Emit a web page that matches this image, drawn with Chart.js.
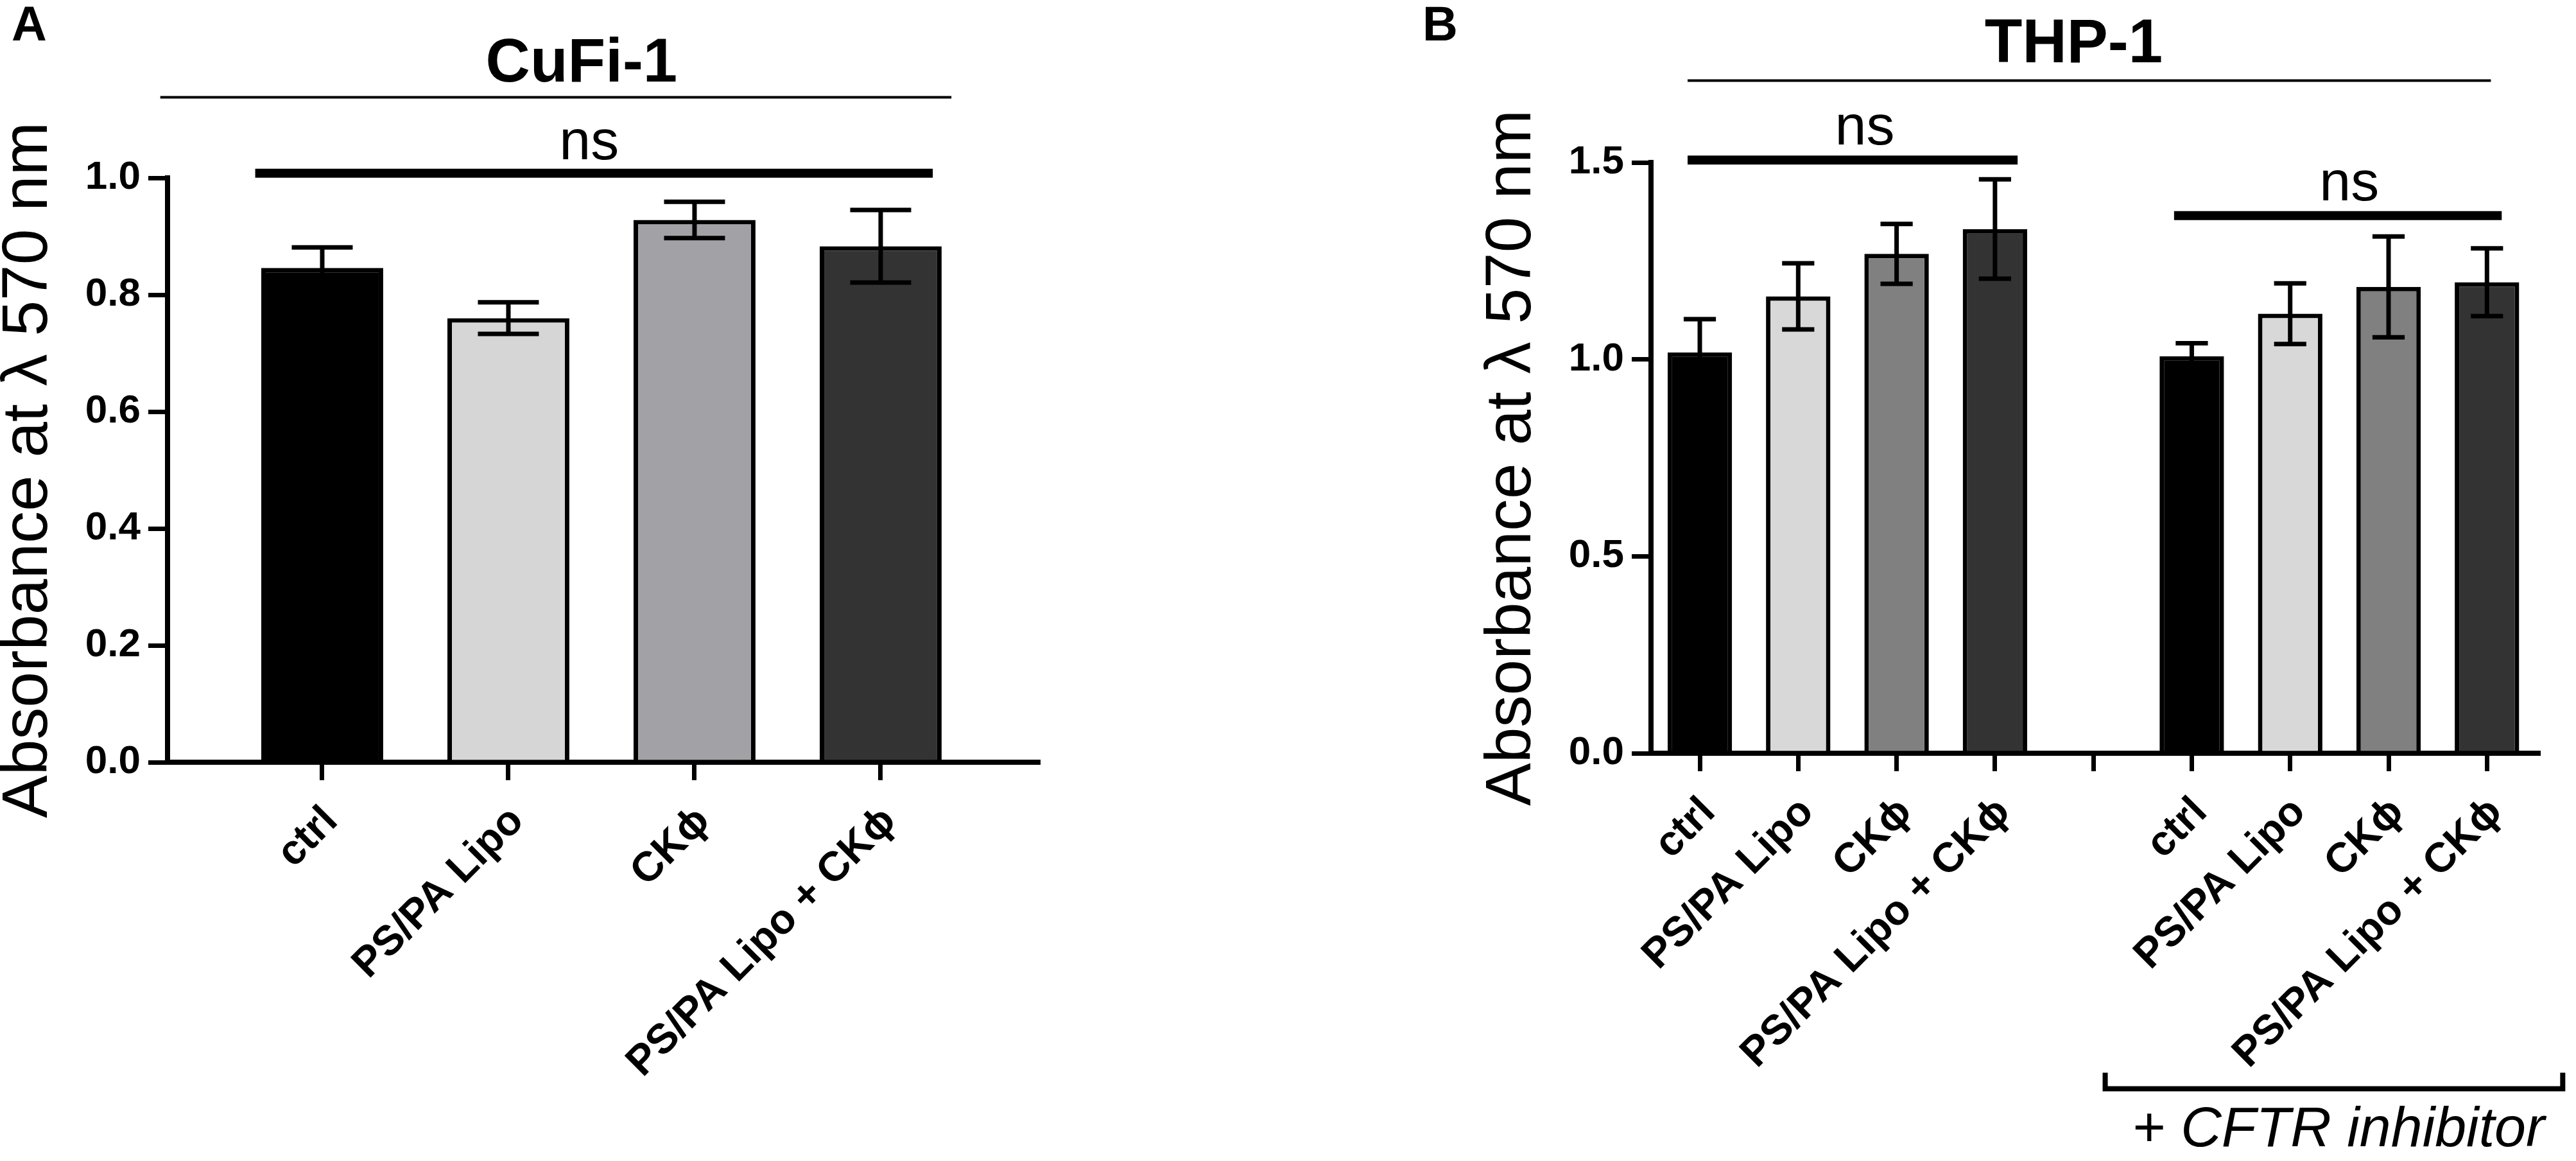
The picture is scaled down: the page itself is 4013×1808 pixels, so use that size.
<!DOCTYPE html>
<html>
<head>
<meta charset="utf-8">
<script src="https://cdn.jsdelivr.net/npm/chart.js@4.4.1/dist/chart.umd.min.js"></script>
<style>
  html, body { margin: 0; padding: 0; background: #fff; }
  body { width: 4013px; height: 1808px; position: relative; overflow: hidden; }
  canvas { position: absolute; top: 0; }
  #panelA { left: 0; }
  #panelB { left: 2000px; }
</style>
</head>
<body>
<canvas id="panelA" width="1800" height="1808"></canvas>
<canvas id="panelB" width="2013" height="1808"></canvas>
<script>
const FONT = '"Liberation Sans", Arial, sans-serif';

// Panel A - CuFi-1
const categoriesA = ['ctrl', 'PS/PA Lipo', 'CKϕ', 'PS/PA Lipo + CKϕ'];
const valuesA = [0.846, 0.760, 0.928, 0.883];
const errorsA = [0.035, 0.027, 0.031, 0.062];
const yTicksA = [0, 0.2, 0.4, 0.6, 0.8, 1.0];

// Panel B - THP-1 (right group = + CFTR inhibitor, empty slot between groups)
const categoriesB = ['ctrl', 'PS/PA Lipo', 'CKϕ', 'PS/PA Lipo + CKϕ', '',
                     'ctrl', 'PS/PA Lipo', 'CKϕ', 'PS/PA Lipo + CKϕ'];
const valuesB = [1.018, 1.160, 1.268, 1.331, null, 1.008, 1.116, 1.184, 1.196];
const errorsB = [0.084, 0.084, 0.076, 0.126, null, 0.033, 0.077, 0.128, 0.086];
const yTicksB = [0, 0.5, 1.0, 1.5];

const colorsA = ['#000000', '#d6d6d6', '#a2a2a6', '#333333'];
const colorsB = ['#000000', '#d8d8d8', '#808080', '#333333', '#ffffff',
                 '#000000', '#d8d8d8', '#808080', '#333333'];

// mean +/- error whiskers, drawn through the y scale
const errorBars = {
  id: 'errorBars',
  afterDatasetsDraw(chart) {
    const { ctx, scales: { y } } = chart;
    const meta = chart.getDatasetMeta(0);
    const data = chart.data.datasets[0].data;
    ctx.save();
    ctx.strokeStyle = '#000';
    ctx.lineWidth = 7;
    meta.data.forEach((bar, j) => {
      const d = data[j];
      const top = y.getPixelForValue(d.y + d.err);
      const bot = y.getPixelForValue(d.y - d.err);
      const half = bar.width / 4;
      ctx.beginPath();
      ctx.moveTo(bar.x, top); ctx.lineTo(bar.x, bot);
      ctx.moveTo(bar.x - half, top); ctx.lineTo(bar.x + half, top);
      ctx.moveTo(bar.x - half, bot); ctx.lineTo(bar.x + half, bot);
      ctx.stroke();
    });
    ctx.restore();
  }
};

// titles, ns bars, bracket - placed in data units
function annotate(notes) {
  return {
    id: 'annotate',
    afterDraw(chart) {
      const { ctx, scales: { x, y } } = chart;
      ctx.save();
      ctx.fillStyle = '#000';
      ctx.strokeStyle = '#000';
      notes.lines.forEach(l => {
        ctx.lineWidth = l.w;
        ctx.beginPath();
        ctx.moveTo(x.getPixelForValue(l.x1), y.getPixelForValue(l.y));
        ctx.lineTo(x.getPixelForValue(l.x2), y.getPixelForValue(l.y));
        ctx.stroke();
      });
      (notes.brackets || []).forEach(b => {
        ctx.lineWidth = b.w;
        ctx.beginPath();
        ctx.moveTo(x.getPixelForValue(b.x1), y.getPixelForValue(b.yEnd));
        ctx.lineTo(x.getPixelForValue(b.x1), y.getPixelForValue(b.y));
        ctx.lineTo(x.getPixelForValue(b.x2), y.getPixelForValue(b.y));
        ctx.lineTo(x.getPixelForValue(b.x2), y.getPixelForValue(b.yEnd));
        ctx.stroke();
      });
      ctx.textAlign = 'center';
      ctx.textBaseline = 'alphabetic';
      notes.texts.forEach(t => {
        ctx.font = t.font + ' ' + FONT;
        ctx.fillText(t.text, x.getPixelForValue(t.x), y.getPixelForValue(t.y));
      });
      ctx.textAlign = 'left';
      ctx.font = 'bold 76px ' + FONT;
      ctx.fillText(notes.letter.text, notes.letter.px, notes.letter.py);
      ctx.restore();
    }
  };
}

function barChart(id, p) {
  const points = p.values
    .map((v, i) => ({ x: i, y: v, err: p.errors[i] }))
    .filter(d => d.y !== null);
  return new Chart(document.getElementById(id), {
    type: 'bar',
    data: {
      datasets: [{
        data: points,
        backgroundColor: c => p.colors[c.raw.x],
        borderColor: '#000',
        borderWidth: 7,
        barPercentage: 0.655,
        categoryPercentage: 1
      }]
    },
    options: {
      responsive: false,
      animation: false,
      devicePixelRatio: 1,
      layout: { padding: p.padding },
      plugins: { legend: { display: false }, tooltip: { enabled: false } },
      scales: {
        x: {
          type: 'linear',
          min: p.xMin,
          max: p.xMax,
          offset: false,
          afterBuildTicks: s => { s.ticks = p.categories.map((c, i) => ({ value: i })); },
          afterFit: s => { s.height = 500; },
          grid: { display: true, drawOnChartArea: false, offset: false, color: '#000', lineWidth: 7, tickLength: 28 },
          border: { display: true, color: '#000', width: 8 },
          ticks: {
            autoSkip: false, minRotation: 45, maxRotation: 45,
            padding: 26, labelOffset: 14, color: '#000',
            font: { family: FONT, size: 65, weight: 'bold' },
            callback: (v, i) => p.categories[i]
          }
        },
        y: {
          min: 0,
          max: p.yMax,
          afterBuildTicks: s => { s.ticks = p.yTicks.map(v => ({ value: v })); },
          afterFit: s => { s.width = 261; },
          grid: { display: true, drawOnChartArea: false, color: '#000', lineWidth: 7, tickLength: 30 },
          border: { display: true, color: '#000', width: 8 },
          ticks: {
            padding: 12, color: '#000',
            font: { family: FONT, size: 62, weight: 'bold' },
            callback: v => v.toFixed(1)
          },
          title: {
            display: true,
            text: 'Absorbance at λ 570 nm',
            color: '#000',
            padding: 0,
            font: { family: FONT, size: 100, lineHeight: 0.9 }
          }
        }
      }
    },
    plugins: [errorBars, annotate(p.notes)]
  });
}

barChart('panelA', {
  categories: categoriesA, values: valuesA, errors: errorsA, colors: colorsA,
  yTicks: yTicksA, yMax: 1.0, xMin: -0.831, xMax: 3.845,
  padding: { left: 0, top: 277, right: 183, bottom: 121 },
  notes: {
    lines: [
      { x1: -0.87, x2: 3.38, y: 1.138, w: 4 },
      { x1: -0.36, x2: 3.28, y: 1.008, w: 14 }
    ],
    texts: [
      { text: 'CuFi-1', x: 1.393, y: 1.165, font: 'bold 96px' },
      { text: 'ns', x: 1.434, y: 1.032, font: '88px' }
    ],
    letter: { text: 'A', px: 18, py: 63 }
  }
});

barChart('panelB', {
  categories: categoriesB, values: valuesB, errors: errorsB, colors: colorsB,
  yTicks: yTicksB, yMax: 1.5, xMin: -0.496, xMax: 8.52,
  padding: { left: 311, top: 253, right: 59, bottom: 135 },
  notes: {
    lines: [
      { x1: -0.124, x2: 8.04, y: 1.708, w: 4 },
      { x1: -0.124, x2: 3.23, y: 1.506, w: 14 },
      { x1: 4.82, x2: 8.15, y: 1.365, w: 14 }
    ],
    brackets: [
      { x1: 4.12, x2: 8.77, y: -0.852, yEnd: -0.811, w: 8 }
    ],
    texts: [
      { text: 'THP-1', x: 3.80, y: 1.755, font: 'bold 96px' },
      { text: 'ns', x: 1.676, y: 1.545, font: '88px' },
      { text: 'ns', x: 6.60, y: 1.403, font: '88px' },
      { text: '+ CFTR inhibitor', x: 6.49, y: -0.998, font: 'italic 88px' }
    ],
    letter: { text: 'B', px: 216, py: 63 }
  }
});
</script>
</body>
</html>
